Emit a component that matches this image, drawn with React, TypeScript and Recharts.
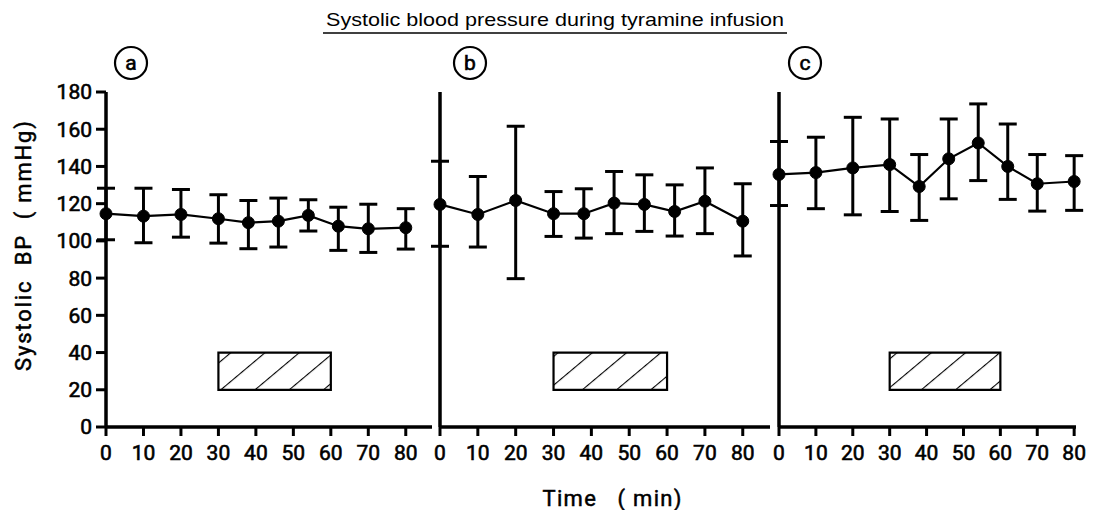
import { LineChart, Line, XAxis, YAxis, ErrorBar, ReferenceArea } from 'recharts';

// sampling times (min)
const times = [0, 10, 20, 30, 38, 46, 54, 62, 70, 80];

// panel a
const aMean = [114.6, 113.3, 114.2, 111.9, 109.8, 110.6, 113.7, 107.9, 106.5, 107.1];
const aUpper = [128.3, 128.3, 127.6, 124.8, 121.7, 123.0, 122.1, 118.1, 119.7, 117.3];
const aLower = [100.6, 99.0, 102.0, 98.8, 95.8, 96.7, 105.3, 94.9, 93.8, 95.6];

// panel b
const bMean = [119.6, 114.2, 121.7, 114.6, 114.6, 120.3, 119.6, 115.8, 121.3, 110.6];
const bUpper = [142.8, 134.6, 161.6, 126.5, 128.0, 137.3, 135.5, 130.1, 139.2, 130.7];
const bLower = [97.1, 96.7, 79.7, 102.4, 101.5, 103.9, 105.1, 102.6, 103.9, 91.9];

// panel c
const cMean = [135.7, 136.7, 139.2, 141.0, 129.2, 144.1, 152.6, 140.0, 130.7, 131.9];
const cUpper = [153.4, 155.7, 166.4, 165.5, 146.4, 165.5, 173.6, 162.8, 146.4, 145.8];
const cLower = [119.0, 117.3, 114.0, 115.8, 111.0, 122.6, 132.4, 122.3, 116.0, 116.4];

const xTicks = [0, 10, 20, 30, 40, 50, 60, 70, 80];
const yTicks = [0, 20, 40, 60, 80, 100, 120, 140, 160, 180];

// tyramine infusion period
const infusion = { start: 30, end: 60, low: 20, high: 40 };

const FONT = 'Roboto, "DejaVu Sans", sans-serif';

const buildRows = (mean: number[], upper: number[], lower: number[]) =>
  times.map((t, i) => ({
    t,
    bp: mean[i],
    err: [mean[i] - lower[i], upper[i] - mean[i]],
  }));

type PanelProps = {
  id: string;
  rows: { t: number; bp: number; err: number[] }[];
  left: number;
  width: number;
  xMax: number;
  yAxisWidth: number;
  marginLeft: number;
  marginRight: number;
  showYTicks: boolean;
};

const tickText = { fill: '#000', fontFamily: FONT, stroke: '#000', strokeWidth: 0.6, fontSize: 21 };

const Panel = ({ id, rows, left, width, xMax, yAxisWidth, marginLeft, marginRight, showYTicks }: PanelProps) => (
  <div style={{ position: 'absolute', left, top: 0 }}>
    <LineChart
      width={width}
      height={510}
      data={rows}
      margin={{ top: 92, right: marginRight, left: marginLeft, bottom: 43 }}
    >
      <defs>
        <pattern
          id={`hatch-${id}`}
          patternUnits="userSpaceOnUse"
          width={22}
          height={22}
          patternTransform="rotate(50)"
        >
          <line x1={0} y1={0} x2={0} y2={22} stroke="#000" strokeWidth={2.2} />
        </pattern>
      </defs>
      <XAxis
        type="number"
        dataKey="t"
        domain={[0, xMax]}
        ticks={xTicks}
        interval={0}
        height={40}
        axisLine={{ stroke: '#000', strokeWidth: 3.5 }}
        tickLine={{ stroke: '#000', strokeWidth: 3 }}
        tickSize={9}
        tickMargin={9}
        tick={tickText}
      />
      <YAxis
        type="number"
        domain={[0, 180]}
        ticks={yTicks}
        interval={0}
        width={yAxisWidth}
        axisLine={{ stroke: '#000', strokeWidth: 3.5 }}
        tickLine={showYTicks ? { stroke: '#000', strokeWidth: 3 } : false}
        tickSize={10}
        tickMargin={4}
        tick={showYTicks ? tickText : false}
      />
      <ReferenceArea
        x1={infusion.start}
        x2={infusion.end}
        y1={infusion.low}
        y2={infusion.high}
        fill={`url(#hatch-${id})`}
        fillOpacity={1}
        stroke="#000"
        strokeWidth={2.2}
      />
      <Line
        type="linear"
        dataKey="bp"
        stroke="#000"
        strokeWidth={2.2}
        dot={{ r: 6, fill: '#000', stroke: '#000', strokeWidth: 1 }}
        activeDot={false}
        isAnimationActive={false}
      >
        <ErrorBar dataKey="err" width={9} stroke="#000" strokeWidth={3} direction="y" />
      </Line>
    </LineChart>
  </div>
);

export default function App() {
  const panelA = buildRows(aMean, aUpper, aLower);
  const panelB = buildRows(bMean, bUpper, bLower);
  const panelC = buildRows(cMean, cUpper, cLower);

  return (
    <div
      style={{
        position: 'absolute',
        left: 0,
        top: 0,
        width: 1097,
        height: 510,
        background: '#fff',
        fontFamily: FONT,
        overflow: 'hidden',
      }}
    >
      <Panel id="a" rows={panelA} left={0} width={440} xMax={87} yAxisWidth={60} marginLeft={46} marginRight={8} showYTicks />
      <Panel id="b" rows={panelB} left={430} width={350} xMax={87.2} yAxisWidth={10} marginLeft={0} marginRight={10} showYTicks={false} />
      <Panel id="c" rows={panelC} left={769} width={328} xMax={80.5} yAxisWidth={10} marginLeft={0} marginRight={21} showYTicks={false} />

      <svg width={1097} height={510} style={{ position: 'absolute', left: 0, top: 0, pointerEvents: 'none' }}>
        <text
          x={555}
          y={26}
          textAnchor="middle"
          fontSize={19}
          textLength={458}
          lengthAdjust="spacingAndGlyphs"
          fontFamily='"Liberation Sans", Arial, sans-serif'
          fill="#000"
        >
          Systolic blood pressure during tyramine infusion
        </text>
        <line x1={323} y1={33} x2={787} y2={33} stroke="#000" strokeWidth={1.5} />

        {[
          { label: 'a', cx: 131 },
          { label: 'b', cx: 470 },
          { label: 'c', cx: 805 },
        ].map((p) => (
          <g key={p.label}>
            <circle cx={p.cx} cy={63} r={16} fill="none" stroke="#000" strokeWidth={2.2} />
            <text
              x={p.cx}
              y={70}
              textAnchor="middle"
              fontSize={21}
              fontFamily={FONT}
              fill="#000"
              stroke="#000"
              strokeWidth={0.6}
            >
              {p.label}
            </text>
          </g>
        ))}

        <text
          x={23}
          y={246}
          transform="rotate(-90 23 246)"
          textAnchor="middle"
          dominantBaseline="central"
          fontSize={22}
          textLength={250}
          lengthAdjust="spacing"
          fontFamily={FONT}
          fill="#000"
          stroke="#000"
          strokeWidth={0.5}
          style={{ whiteSpace: 'pre' }}
        >
          {'Systolic  BP  ( mmHg)'}
        </text>
        <text
          x={612}
          y={506}
          textAnchor="middle"
          fontSize={22}
          textLength={139}
          lengthAdjust="spacing"
          fontFamily={FONT}
          fill="#000"
          stroke="#000"
          strokeWidth={0.5}
          style={{ whiteSpace: 'pre' }}
        >
          {'Time   ( min)'}
        </text>
      </svg>
    </div>
  );
}
